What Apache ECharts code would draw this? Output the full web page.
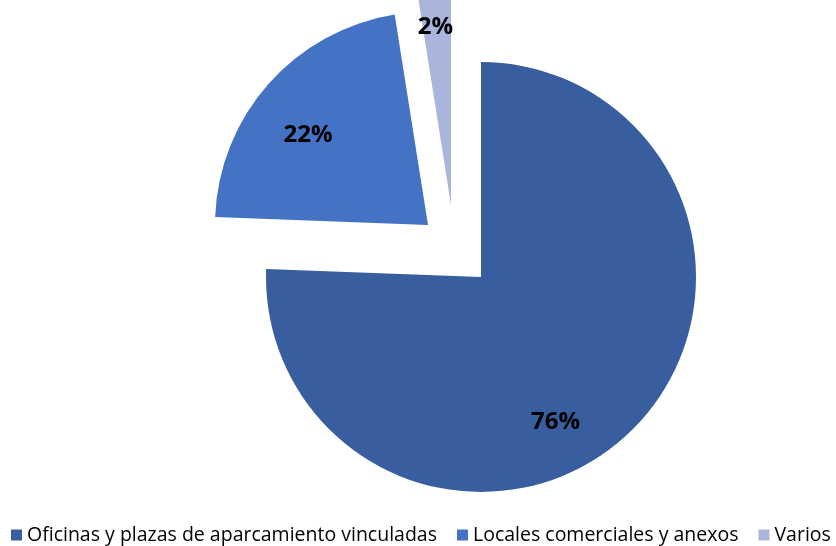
<!DOCTYPE html>
<html>
<head>
<meta charset="utf-8">
<script src="https://cdn.jsdelivr.net/npm/echarts@6/dist/echarts.min.js"></script>
<style>
  html, body { margin: 0; padding: 0; background: #fff; }
  #main { width: 836px; height: 546px; }
</style>
</head>
<body>
<div id="main"></div>
<script>
var names = ['Oficinas y plazas de aparcamiento vinculadas', 'Locales comerciales y anexos', 'Varios'];
var values = [75.6, 21.9, 2.5];
var colorList = ['#385E9F', '#4472C4', '#A9B5DD'];

// each slice gets its own series so it can be pulled out on its own
var centers = [[481, 277], [428, 225], [451, 205]];
var labelShift = [[-2, 66], [-38, -17], [-7, -68]];

function sliceSeries(k) {
    var data = [];
    for (var i = 0; i < values.length; i++) {
        var own = (i == k);
        data.push({
            name: names[i],
            value: values[i],
            itemStyle: { color: own ? colorList[i] : 'rgba(0,0,0,0)' },
            label: { show: own }
        });
    }
    return {
        type: 'pie',
        radius: [0, k == 1 ? 213 : 215],
        center: centers[k],
        startAngle: 90,
        clockwise: true,
        avoidLabelOverlap: false,
        silent: true,
        percentPrecision: 0,
        itemStyle: { borderWidth: 0 },
        label: {
            position: 'inside',
            formatter: '{d}%',
            color: '#000',
            fontFamily: 'Open Sans',
            fontWeight: 'bold',
            fontSize: 24
        },
        labelLine: { show: false },
        labelLayout: { dx: labelShift[k][0], dy: labelShift[k][1] },
        emphasis: { disabled: true },
        data: data
    };
}

var legendData = [];
for (var i = 0; i < names.length; i++) {
    legendData.push({ name: names[i], itemStyle: { color: colorList[i] } });
}

var myChart = echarts.init(document.getElementById('main'));
myChart.setOption({
    animation: false,
    legend: {
        left: 6,
        top: 520,
        width: 830,
        icon: 'rect',
        itemWidth: 11,
        itemHeight: 11,
        itemGap: 20,
        selectedMode: false,
        textStyle: { fontFamily: 'Open Sans', fontSize: 19.5, color: '#000' },
        data: legendData
    },
    series: [sliceSeries(0), sliceSeries(1), sliceSeries(2)]
});
</script>
</body>
</html>
